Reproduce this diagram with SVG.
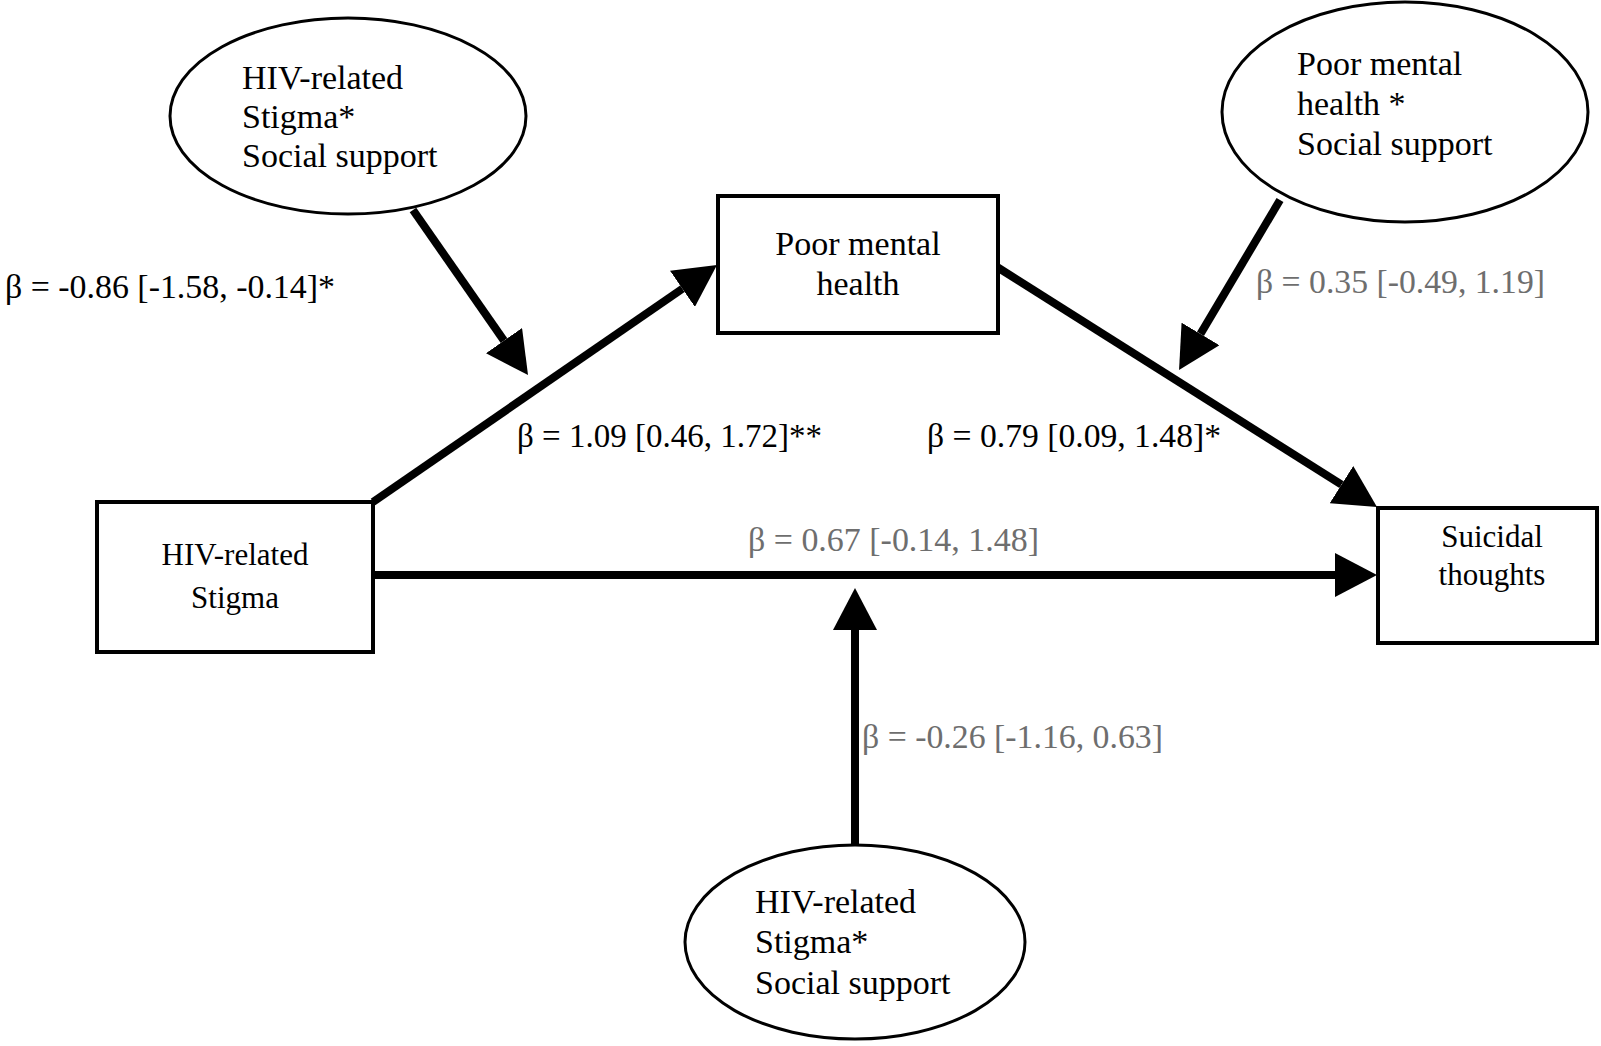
<svg xmlns="http://www.w3.org/2000/svg" width="1601" height="1046" viewBox="0 0 1601 1046">
<style>
.bg{fill:#ffffff}
.box{fill:#ffffff;stroke:#000;stroke-width:4}
.ell{fill:#ffffff;stroke:#000;stroke-width:3}
.t{font-family:"Liberation Serif","Times New Roman",serif;fill:#000}
.lbl{font-family:"Liberation Serif","Times New Roman",serif;font-size:34px;fill:#000}
.gray{fill:#6e6e6e}
.c{fill:none;stroke:#000;stroke-width:8;marker-end:url(#ah)}
</style>
<defs>
<marker id="ah" viewBox="0 0 42 44" refX="0" refY="22" markerWidth="42" markerHeight="44" markerUnits="userSpaceOnUse" orient="auto">
<path d="M0,0 L42,22 L0,44 z" fill="#000"/>
</marker>
</defs>
<rect class="bg" x="0" y="0" width="1601" height="1046"/>

<g id="connectors">
<line class="c" x1="413" y1="210" x2="504.0" y2="340.6"/>
<line class="c" x1="373" y1="502" x2="682.4" y2="288.8"/>
<line class="c" x1="997" y1="267" x2="1341.5" y2="484.6"/>
<line class="c" x1="373" y1="575" x2="1335" y2="575"/>
<line class="c" x1="855" y1="845" x2="855" y2="630"/>
<line class="c" x1="1280" y1="200" x2="1200.5" y2="333.9"/>
</g>

<g id="mod-left">
<ellipse class="ell" cx="348" cy="116" rx="178" ry="98"/>
<text class="t" font-size="34" x="242" y="89">HIV-related</text>
<text class="t" font-size="34" x="242" y="128">Stigma*</text>
<text class="t" font-size="34" x="242" y="167">Social support</text>
</g>

<g id="mod-right">
<ellipse class="ell" cx="1405" cy="112" rx="183" ry="110"/>
<text class="t" font-size="34" x="1297" y="75">Poor mental</text>
<text class="t" font-size="34" x="1297" y="115">health *</text>
<text class="t" font-size="34" x="1297" y="155">Social support</text>
</g>

<g id="mod-bottom">
<ellipse class="ell" cx="855" cy="942" rx="170" ry="97"/>
<text class="t" font-size="34" x="755" y="913">HIV-related</text>
<text class="t" font-size="34" x="755" y="953">Stigma*</text>
<text class="t" font-size="34" x="755" y="994">Social support</text>
</g>

<g id="mediator">
<rect class="box" x="718" y="196" width="280" height="137"/>
<text class="t" font-size="34" x="858" y="255" text-anchor="middle">Poor mental</text>
<text class="t" font-size="34" x="858" y="295" text-anchor="middle">health</text>
</g>

<g id="predictor">
<rect class="box" x="97" y="502" width="276" height="150"/>
<text class="t" font-size="31" x="235" y="565" text-anchor="middle">HIV-related</text>
<text class="t" font-size="31" x="235" y="608" text-anchor="middle">Stigma</text>
</g>

<g id="outcome">
<rect class="box" x="1378" y="508" width="219" height="135"/>
<text class="t" font-size="31" x="1492" y="547" text-anchor="middle">Suicidal</text>
<text class="t" font-size="31" x="1492" y="585" text-anchor="middle">thoughts</text>
</g>

<g id="labels">
<text class="lbl" x="5" y="298" textLength="330" lengthAdjust="spacingAndGlyphs">β = -0.86 [-1.58, -0.14]*</text>
<text class="lbl" x="517" y="447" textLength="305" lengthAdjust="spacingAndGlyphs">β = 1.09 [0.46, 1.72]**</text>
<text class="lbl" x="927" y="447" textLength="294" lengthAdjust="spacingAndGlyphs">β = 0.79 [0.09, 1.48]*</text>
<text class="lbl gray" x="1256" y="293" textLength="289" lengthAdjust="spacingAndGlyphs">β = 0.35 [-0.49, 1.19]</text>
<text class="lbl gray" x="748" y="551" textLength="291" lengthAdjust="spacingAndGlyphs">β = 0.67 [-0.14, 1.48]</text>
<text class="lbl gray" x="862" y="748" textLength="301" lengthAdjust="spacingAndGlyphs">β = -0.26 [-1.16, 0.63]</text>
</g>
</svg>
